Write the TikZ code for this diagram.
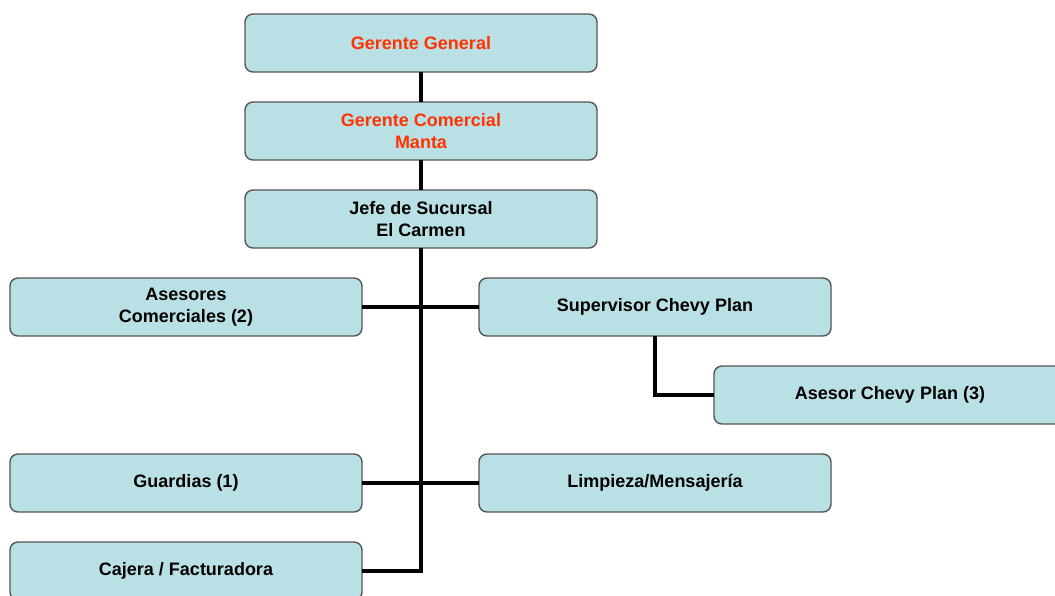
\documentclass[tikz,border=0pt]{standalone}
\usepackage{fontspec}
\setmainfont{Liberation Sans}
\usetikzlibrary{positioning}

\definecolor{boxfill}{RGB}{185,224,228}
\definecolor{boxline}{RGB}{85,85,85}
\definecolor{boss}{RGB}{255,51,0}

\tikzset{
  post/.style={draw=boxline,line width=1.4pt,fill=boxfill,rounded corners=8pt,
    minimum width=352pt,minimum height=58pt,align=center,inner sep=2pt,
    outer sep=0pt,font=\fontsize{18}{22}\selectfont\bfseries},
  chief/.style={post,text=boss},
  link/.style={line width=3.2pt,black}
}

\begin{document}
\begin{tikzpicture}[x=1pt,y=1pt,node distance=30pt]
  \useasboundingbox (0,0) rectangle (1055,-595);

  \node[chief] (GerGen)  at (421,-43)  {Gerente General};
  \node[chief] (GerCom)  [below=of GerGen] {Gerente Comercial\\Manta};
  \node[post]  (Jefe)    [below=of GerCom] {Jefe de Sucursal\\El Carmen};
  \node[post]  (Asesores)[below=of Jefe,xshift=-235pt] {Asesores\\Comerciales (2)};
  \node[post]  (SupChevy)[below=of Jefe,xshift=234pt]  {Supervisor Chevy Plan};
  \node[post]  (AseChevy)[below=of SupChevy,xshift=235pt] {Asesor Chevy Plan (3)};
  \node[post]  (Guardias)[below=118pt of Asesores] {Guardias (1)};
  \node[post]  (Limpieza)[below=118pt of SupChevy] {Limpieza/Mensajería};
  \node[post]  (Cajera)  [below=of Guardias] {Cajera / Facturadora};

  % lineas de mando
  \draw[link] (GerGen) -- (GerCom);
  \draw[link] (GerCom) -- (Jefe);
  \draw[link] (Jefe.south) |- (Cajera.east);
  \draw[link] (Asesores) -- (SupChevy);
  \draw[link] (Guardias) -- (Limpieza);
  \draw[link] (SupChevy.south) |- (AseChevy.west);
\end{tikzpicture}
\end{document}
